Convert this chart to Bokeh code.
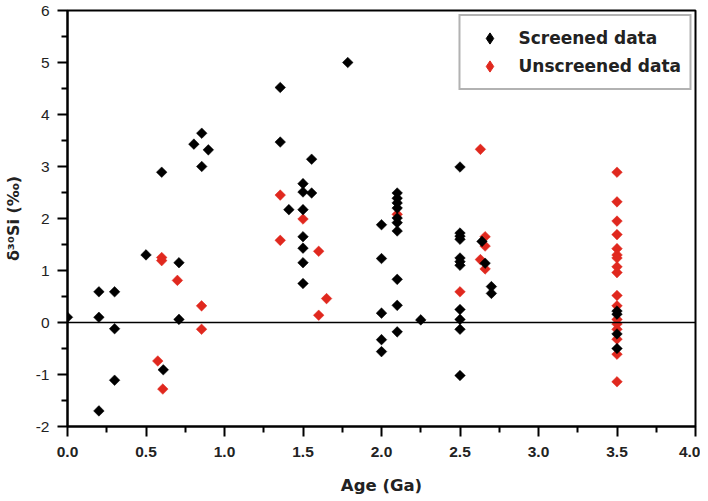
import math
from bokeh.plotting import figure
from bokeh.models import (ColumnDataSource, FixedTicker, Span, Legend, LegendItem, Range1d,
                          CDSView, IndexFilter)
from bokeh.embed import file_html
from bokeh.resources import INLINE

# Screened data (age in Ga, delta30Si in permil)
screened_age = [0.0,
                0.2, 0.2, 0.2,
                0.3, 0.3, 0.3,
                0.5,
                0.6, 0.61,
                0.71, 0.71,
                0.805, 0.855, 0.855, 0.897,
                1.355, 1.355,
                1.41,
                1.5, 1.5, 1.5, 1.5, 1.5, 1.5, 1.5,
                1.555, 1.555,
                1.785,
                2.0, 2.0, 2.0, 2.0, 2.0,
                2.1, 2.1, 2.1, 2.1, 2.1, 2.1, 2.1, 2.1, 2.1, 2.1,
                2.25,
                2.5, 2.5, 2.5, 2.5, 2.5, 2.5, 2.5, 2.5, 2.5, 2.5, 2.5,
                2.64, 2.66,
                2.70, 2.70,
                3.5, 3.5, 3.5, 3.5]
screened_d30si = [0.10,
                  0.59, 0.10, -1.70,
                  0.59, -0.12, -1.11,
                  1.30,
                  2.89, -0.91,
                  1.15, 0.06,
                  3.43, 3.64, 3.00, 3.32,
                  4.52, 3.47,
                  2.17,
                  2.67, 2.51, 2.17, 1.65, 1.43, 1.15, 0.75,
                  3.14, 2.49,
                  5.00,
                  1.88, 1.23, 0.18, -0.33, -0.56,
                  2.49, 2.39, 2.30, 2.20, 2.01, 1.92, 1.76, 0.83, 0.33, -0.18,
                  0.05,
                  2.99, 1.72, 1.66, 1.60, 1.24, 1.17, 1.10, 0.25, 0.06, -0.13, -1.02,
                  1.56, 1.14,
                  0.69, 0.56,
                  0.22, 0.16, -0.22, -0.50]

# Unscreened data
unscreened_age = [0.575, 0.6, 0.6, 0.607,
                  0.70, 0.854, 0.854,
                  1.355, 1.355,
                  1.5,
                  1.6, 1.6, 1.65,
                  2.1,
                  2.5,
                  2.63, 2.63,
                  2.66, 2.66, 2.66,
                  3.5, 3.5, 3.5, 3.5, 3.5, 3.5, 3.5, 3.5, 3.5, 3.5, 3.5, 3.5, 3.5, 3.5, 3.5, 3.5, 3.5]
unscreened_d30si = [-0.74, 1.25, 1.19, -1.28,
                    0.81, 0.32, -0.13,
                    2.45, 1.58,
                    1.99,
                    1.37, 0.14, 0.46,
                    2.08,
                    0.59,
                    3.33, 1.21,
                    1.65, 1.47, 1.03,
                    2.89, 2.32, 1.95, 1.69, 1.42, 1.30, 1.24, 1.07, 0.96, 0.52, 0.32, 0.06, -0.03, -0.13, -0.32, -0.61, -1.14]

x_ticks = [0.0, 0.5, 1.0, 1.5, 2.0, 2.5, 3.0, 3.5, 4.0]
x_minor = [0.25, 0.75, 1.25, 1.75, 2.25, 2.75, 3.25, 3.75]
y_ticks = [-2, -1, 0, 1, 2, 3, 4, 5, 6]
y_minor = [-1.5, -0.5, 0.5, 1.5, 2.5, 3.5, 4.5, 5.5]

p = figure(width=700, height=497, output_backend="svg", toolbar_location=None,
           x_range=Range1d(0, 4), y_range=Range1d(-2, 6),
           min_border_left=67, min_border_right=5, min_border_top=10, min_border_bottom=69)
p.xgrid.visible = False
p.ygrid.visible = False
p.outline_line_color = "black"
p.outline_line_width = 2
p.background_fill_color = "white"
p.border_fill_color = "white"

p.xaxis.ticker = FixedTicker(ticks=x_ticks, minor_ticks=x_minor)
p.yaxis.ticker = FixedTicker(ticks=y_ticks, minor_ticks=y_minor)
p.xaxis.major_label_overrides = {t: f"{t:.1f}" for t in x_ticks}
p.yaxis.major_label_overrides = {t: f"{t:d}" for t in y_ticks}

p.axis.axis_line_width = 2
p.axis.axis_line_color = "black"
p.axis.major_tick_line_color = "black"
p.axis.minor_tick_line_color = "black"
p.axis.major_tick_line_width = 2
p.axis.minor_tick_line_width = 2
p.axis.major_tick_out = 10
p.axis.major_tick_in = 0
p.axis.minor_tick_out = 6
p.axis.minor_tick_in = 0
p.axis.major_label_text_color = "#222222"
p.axis.axis_label_text_color = "#222222"

p.xaxis.major_label_text_font = "Liberation Sans"
p.xaxis.major_label_text_font_style = "bold"
p.xaxis.major_label_text_font_size = "15.5px"
p.xaxis.major_label_standoff = 10
p.xaxis.axis_label = "Age (Ga)"
p.xaxis.axis_label_text_font = "DejaVu Sans"
p.xaxis.axis_label_text_font_style = "bold"
p.xaxis.axis_label_text_font_size = "16.5px"
p.xaxis.axis_label_standoff = 16

p.yaxis.major_label_text_font = "Liberation Sans"
p.yaxis.major_label_text_font_style = "normal"
p.yaxis.major_label_text_font_size = "15.5px"
p.yaxis.major_label_standoff = 8
p.yaxis.axis_label = "δ³⁰Si (‰)"
p.yaxis.axis_label_text_font = "DejaVu Sans"
p.yaxis.axis_label_text_font_style = "bold"
p.yaxis.axis_label_text_font_size = "16px"
p.yaxis.axis_label_standoff = 10

zero = Span(location=0, dimension="width", line_color="black", line_width=1.5)
p.add_layout(zero)

src_u = ColumnDataSource(dict(x=unscreened_age, y=unscreened_d30si))
src_s = ColumnDataSource(dict(x=screened_age, y=screened_d30si))

# legend proxies: a diamond under the first point of each series (hidden beneath it)
lg_u = p.scatter("x", "y", source=src_u, view=CDSView(filter=IndexFilter([0])), marker="diamond",
                 size=6, fill_color="#e0281e", line_color="#e0281e")
lg_s = p.scatter("x", "y", source=src_s, view=CDSView(filter=IndexFilter([0])), marker="diamond",
                 size=6, fill_color="black", line_color="black")

r_u = p.scatter("x", "y", source=src_u, marker="square", angle=math.pi / 4, size=7.5,
                fill_color="#e0281e", line_color="#e0281e", line_width=0.5)
r_s = p.scatter("x", "y", source=src_s, marker="square", angle=math.pi / 4, size=7.5,
                fill_color="black", line_color="black", line_width=0.5)

legend = Legend(items=[LegendItem(label="Screened data", renderers=[lg_s], index=0),
                       LegendItem(label="Unscreened data", renderers=[lg_u], index=0)],
                location="top_right")
legend.margin = 4
legend.padding = 8
legend.spacing = 0
legend.glyph_width = 42
legend.glyph_height = 28
legend.label_standoff = 8
legend.label_text_font = "DejaVu Sans"
legend.label_text_font_style = "bold"
legend.label_text_font_size = "17px"
legend.label_text_color = "#222222"
legend.border_line_color = "#666666"
legend.border_line_width = 2
legend.background_fill_color = "white"
legend.background_fill_alpha = 1
p.add_layout(legend)

open("out.html", "w").write(file_html(p, INLINE))
